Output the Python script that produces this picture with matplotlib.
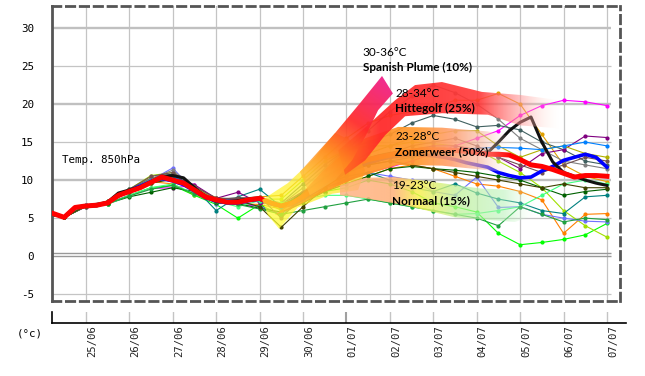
import numpy as np
import matplotlib
matplotlib.use("Agg")
import matplotlib.pyplot as plt
from matplotlib.patches import Polygon
from matplotlib.colors import to_rgb
from matplotlib.transforms import blended_transform_factory

# ---- data ----
date_labels = ["25/06", "26/06", "27/06", "28/06", "29/06", "30/06", "01/07",
               "02/07", "03/07", "04/07", "05/07", "06/07", "07/07"]
y_ticks = [-5, 0, 5, 10, 15, 20, 25, 30]

# 6-hourly main runs (days after 25/06 00h)
days_6h = -0.75 + 0.25 * np.arange(52)
mean_run = [5.6, 5.1, 6.4, 6.6, 6.7, 7.0, 8.0, 8.5, 9.0, 9.7, 10.4, 10.0, 9.6, 8.7, 7.8, 7.4,
            7.1, 7.1, 7.4, 7.6, 7.0, 6.6,
            7.0, 7.8, 8.8, 9.8, 10.8, 11.6, 12.2, 12.7, 13.0, 13.3, 13.6, 13.8, 14.0, 14.0,
            14.0, 13.9, 13.8, 13.6, 13.4, 13.4, 13.3,
            12.7, 12.0, 11.8, 11.4, 10.9, 10.4, 10.6, 10.6, 10.5]
control_run = [5.6, 5.1, 6.4, 6.6, 6.7, 7.0, 8.1, 8.6, 9.2, 9.8, 10.2, 9.9, 9.4, 8.6, 7.7, 7.3,
               7.0, 7.0, 7.3, 7.5, 6.9, 6.6,
               6.8, 7.5, 8.5, 9.5, 10.4, 11.2, 11.8, 12.3, 12.7, 13.0, 13.2, 13.3, 13.3, 13.2,
               13.0, 12.7, 12.3, 12.0, 11.7,
               11.0, 10.6, 10.3, 10.4, 11.2, 11.8, 12.6, 13.0, 13.4, 13.0, 11.7]
oper_run = [5.6, 5.1, 6.4, 6.6, 6.6, 7.1, 8.3, 8.7, 9.1, 9.8, 10.5, 10.6, 10.3, 9.0, 7.8, 7.3,
            7.2, 7.3, 7.5, 7.6, 7.1, 6.6, 7.2,
            8.2, 9.2, 10.2, 11.0, 11.7, 12.3, 12.8, 13.2, 13.5, 13.7, 13.8, 13.9, 13.9, 13.9,
            13.8, 13.7, 13.6, 13.6,
            15.0, 16.5, 17.6, 18.3, 15.0, 12.4, 11.0, 10.5, 10.0, 9.6, 9.3]

# 12-hourly ensemble members
days_12h = np.r_[-0.75, np.arange(-0.5, 12.01, 0.5)]
members = {
    "#ff00ff": [5.6, 5.1, 6.5, 7.0, 8.0, 8.9, 9.0, 9.3, 7.3, 6.8, 6.6, 5.5, 7.5, 9.0, 10.0, 11.0, 11.7, 12.5, 13.5, 14.5, 15.5, 16.5, 18.5, 19.8, 20.5, 20.3, 19.8],
    "#ff8000": [5.6, 5.1, 6.6, 7.2, 8.6, 9.8, 9.5, 8.0, 7.4, 6.9, 6.8, 6.2, 7.5, 8.5, 9.5, 10.5, 11.5, 12.0, 11.5, 10.5, 9.5, 9.2, 8.5, 7.4, 3.0, 5.5, 5.6],
    "#e0a000": [5.6, 5.1, 6.7, 7.1, 8.7, 10.3, 10.4, 8.6, 7.6, 7.5, 7.8, 8.0, 10.5, 13.0, 15.5, 17.5, 18.5, 19.0, 19.5, 20.5, 20.5, 21.4, 20.0, 16.0, 12.0, 10.5, 9.8],
    "#00ff00": [5.6, 5.1, 6.6, 6.9, 8.0, 9.0, 9.3, 8.0, 6.8, 5.0, 6.8, 5.3, 7.5, 8.5, 9.0, 10.0, 9.5, 8.5, 7.0, 6.5, 5.8, 3.0, 1.5, 1.8, 2.2, 2.8, 4.3],
    "#a0e000": [5.6, 5.1, 6.6, 7.2, 8.8, 10.6, 11.0, 9.0, 7.7, 7.4, 7.5, 7.5, 10.0, 12.5, 14.0, 14.5, 14.5, 15.0, 14.8, 14.5, 14.0, 12.5, 11.0, 9.0, 6.0, 4.0, 2.5],
    "#7070ff": [5.6, 5.1, 6.6, 7.0, 8.6, 10.0, 11.6, 8.5, 6.9, 7.2, 6.5, 5.5, 7.5, 9.0, 10.0, 11.0, 10.5, 10.0, 8.5, 8.0, 10.4, 6.4, 6.5, 5.5, 5.0, 4.6, 4.5],
    "#008080": [5.6, 5.1, 6.7, 7.2, 8.8, 10.2, 10.8, 9.0, 6.0, 7.8, 8.8, 6.5, 8.5, 9.5, 10.5, 11.0, 10.0, 9.0, 8.5, 9.5, 8.3, 7.5, 7.0, 6.0, 5.6, 7.8, 8.0],
    "#006000": [5.6, 5.1, 6.5, 6.9, 7.8, 8.4, 9.0, 8.5, 7.0, 6.9, 6.3, 5.8, 7.0, 8.5, 9.5, 10.5, 11.5, 11.8, 11.5, 11.3, 11.0, 10.5, 10.0, 9.0, 8.0, 8.5, 8.8],
    "#808080": [5.6, 5.1, 6.6, 7.1, 8.7, 10.2, 11.3, 9.0, 7.3, 7.6, 7.6, 6.8, 9.0, 11.5, 14.0, 16.5, 19.0, 21.0, 22.5, 21.5, 20.0, 18.0, 15.5, 14.0, 12.5, 12.0, 11.5],
    "#406060": [5.6, 5.1, 6.6, 7.0, 8.5, 9.6, 10.6, 8.8, 7.4, 7.7, 7.5, 7.0, 9.5, 12.0, 14.0, 15.0, 16.0, 17.5, 18.5, 18.0, 17.0, 17.2, 16.6, 15.0, 14.0, 12.5, 12.0],
    "#800080": [5.6, 5.1, 6.6, 7.1, 8.7, 9.8, 10.4, 9.4, 7.6, 8.4, 7.0, 6.8, 8.5, 10.0, 11.0, 12.0, 13.0, 14.0, 14.5, 14.5, 14.0, 13.0, 11.5, 13.5, 14.0, 15.8, 15.6],
    "#b0b000": [5.6, 5.1, 6.6, 7.0, 8.4, 9.6, 10.3, 8.8, 7.5, 7.4, 7.6, 6.0, 8.0, 10.5, 12.0, 13.5, 14.5, 15.5, 16.0, 16.5, 16.5, 14.5, 13.0, 14.0, 14.5, 13.5, 13.0],
    "#0080ff": [5.6, 5.1, 6.7, 7.1, 8.7, 10.0, 10.6, 8.6, 7.5, 7.4, 7.2, 6.5, 8.0, 9.5, 11.0, 12.0, 12.5, 13.0, 13.5, 14.0, 14.2, 14.3, 14.2, 14.0, 14.5, 15.0, 14.5],
    "#40ff80": [5.6, 5.1, 6.6, 6.8, 8.0, 9.0, 9.5, 8.2, 7.2, 6.5, 7.3, 7.0, 7.5, 8.0, 8.0, 7.5, 7.0, 6.5, 6.0, 5.5, 5.6, 6.0, 6.5, 8.0, 9.5, 10.0, 9.5],
    "#705050": [5.6, 5.1, 6.6, 7.2, 8.8, 10.5, 11.0, 9.2, 7.6, 7.6, 7.8, 5.0, 8.0, 10.0, 11.5, 12.5, 13.5, 14.5, 15.0, 15.5, 14.5, 13.0, 12.0, 11.0, 12.0, 13.0, 12.5],
    "#20a040": [5.6, 5.1, 6.6, 6.9, 7.9, 8.8, 9.3, 8.2, 7.1, 6.8, 6.2, 5.5, 6.0, 6.5, 7.0, 7.5, 7.0, 6.5, 6.0, 5.5, 5.0, 4.0, 6.5, 5.5, 4.5, 5.0, 4.8],
    "#404000": [5.6, 5.1, 6.6, 7.0, 8.5, 9.6, 10.1, 9.0, 7.2, 7.3, 6.5, 3.8, 6.5, 9.0, 11.0, 12.0, 12.5, 12.0, 11.5, 11.0, 10.5, 10.0, 9.5, 9.0, 9.5, 9.0, 9.0],
}

# scenario labels
scen_range = ["30-36\u00b0C", "28-34\u00b0C", "23-28\u00b0C", "19-23\u00b0C"]
scen_name = ["Spanish Plume (10%)", "Hittegolf (25%)", "Zomerweer (50%)", "Normaal (15%)"]

# ---- figure ----
W, H = 645, 376
fig = plt.figure(figsize=(W / 100, H / 100), dpi=100)
ax = fig.add_axes([52 / W, 1 - 301 / H, 568 / W, 295 / H])
x0, x1 = -0.78, 12.30
y0, y1 = -5.9, 32.9
sx, sy = 568 / (x1 - x0), 295 / (y1 - y0)   # pixels per unit

mono = "DejaVu Sans Mono"

# grid
for i in range(len(date_labels)):
    ax.axvline(i, color="#c4c4c4", lw=0.9, zorder=0)
for v in y_ticks:
    if v == 0:
        ax.hlines([0.0, 0.38], x0, 12.1, color="#999999", lw=1, zorder=0)
    elif v % 10 == 0:
        ax.hlines(v, x0, 12.1, color="#c0c0c0", lw=1.7, zorder=0)
    else:
        ax.hlines(v, x0, 12.1, color="#c4c4c4", lw=0.9, zorder=0)

# ensemble members
for col, vals in members.items():
    ax.plot(days_12h, vals, color=col, lw=0.8, marker="o", ms=2, zorder=2)
ax.plot(days_6h, control_run, color="#0000ff", lw=2.6, zorder=2.5)
ax.plot(days_6h, oper_run, color="#111111", lw=2.2, zorder=2.6)
ax.plot(days_6h, mean_run, color="#ff0000", lw=3.6, zorder=2.7)


# ---- gradient scenario bands ----
def gradient_band(verts, p0, p1, stops, z):
    verts = np.array(verts)
    poly = Polygon(verts, closed=True, facecolor="none", edgecolor="none")
    ax.add_patch(poly)
    bx0, by0 = verts.min(axis=0)
    bx1, by1 = verts.max(axis=0)
    gx, gy = np.meshgrid(np.linspace(bx0, bx1, 300), np.linspace(by0, by1, 300))
    dx, dy = (p1[0] - p0[0]) * sx, (p1[1] - p0[1]) * sy
    s = ((gx - p0[0]) * sx * dx + (gy - p0[1]) * sy * dy) / (dx * dx + dy * dy)
    s = np.clip(s, 0, 1)
    pos = [st[0] for st in stops]
    rgb = np.array([to_rgb(st[1]) for st in stops])
    alp = [st[2] for st in stops]
    img = np.zeros(gx.shape + (4,))
    for c in range(3):
        img[..., c] = np.interp(s, pos, rgb[:, c])
    img[..., 3] = np.interp(s, pos, alp)
    im = ax.imshow(img, extent=(bx0, bx1, by0, by1), origin="lower", aspect="auto",
                   interpolation="bilinear", zorder=z)
    im.set_clip_path(poly)


# yellow fan at the start of the divergence
gradient_band([(4.06, 7.4), (4.65, 9.6), (5.28, 13.0), (5.74, 16.2), (6.08, 15.3), (6.43, 11.3),
               (6.27, 8.7), (5.67, 8.2), (4.88, 6.4), (4.45, 3.6), (4.19, 5.4)],
              (4.45, 3.6), (5.9, 15.5),
              [(0, "#ffff30", 0.72), (0.6, "#ffe830", 0.75), (1, "#ffb030", 0.82)], 4.0)
# Normaal
gradient_band([(5.85, 9.3), (6.43, 10.3), (7.12, 10.4), (8.2, 9.6), (9.08, 8.9), (9.88, 8.7),
               (10.35, 8.4), (10.35, 5.4), (9.88, 4.5), (8.5, 5.1), (7.35, 6.7), (6.43, 7.6),
               (5.85, 8.0)],
              (5.85, 0), (10.35, 0),
              [(0, "#ffb080", 0.82), (0.27, "#ffb078", 0.85), (0.4, "#f8f050", 0.85),
               (0.6, "#c0f098", 0.75), (0.84, "#b0f0b0", 0.5), (1, "#e0ffe0", 0.0)], 4.1)
# Zomerweer
gradient_band([(4.93, 8.0), (5.44, 11.1), (5.97, 13.7), (6.43, 15.5), (7.19, 17.0), (8.2, 16.9),
               (9.26, 16.4), (9.77, 15.8), (9.77, 11.0), (9.26, 11.3), (8.2, 11.9), (7.19, 12.0),
               (6.2, 10.2), (5.44, 8.3), (4.7, 6.1), (4.35, 5.4)],
              (4.35, 0), (9.77, 0),
              [(0, "#ffc030", 0.72), (0.28, "#ff9020", 0.94), (0.6, "#ff9a30", 0.94),
               (0.75, "#ffa070", 0.9), (0.88, "#f8b8a0", 0.6), (1, "#ffe8e8", 0.0)], 4.2)
# Hittegolf
gradient_band([(5.81, 13.9), (6.43, 16.9), (7.12, 20.5), (7.58, 22.5), (8.2, 22.9), (9.12, 21.6),
               (10.0, 21.2), (10.92, 20.5), (10.92, 16.8), (10.0, 17.2), (9.26, 18.6), (8.2, 18.8),
               (7.35, 18.4), (6.89, 15.9), (6.43, 12.6), (5.97, 10.7)],
              (5.81, 0), (10.92, 0),
              [(0, "#ff7020", 0.82), (0.19, "#ff2828", 0.94), (0.64, "#ff3838", 0.9),
               (0.82, "#ff9090", 0.55), (1, "#fff0e0", 0.0)], 4.3)
# Spanish Plume
gradient_band([(4.93, 11.1), (5.74, 16.2), (6.31, 20.1), (6.82, 23.7), (7.07, 21.4), (6.73, 19.2),
               (6.45, 15.9), (6.13, 12.6), (5.74, 10.0), (5.16, 8.0)],
              (5.05, 9.3), (6.82, 23.7),
              [(0, "#ffc040", 0.65), (0.3, "#ff8a20", 0.9), (0.6, "#ff2a2a", 0.94),
               (1, "#f0208c", 0.95)], 4.4)

# scenario texts
lab_pos = [(6.38, 26.8), (7.12, 21.4), (7.12, 15.7), (7.05, 9.3)]
for (px, py), rng, name in zip(lab_pos, scen_range, scen_name):
    ax.text(px, py, rng, fontsize=8.5, family="Lato", va="center", ha="left", zorder=6)
    ax.text(px, py - 1.95, name, fontsize=8.5, family="Lato", fontweight="bold",
            va="center", ha="left", zorder=6)

ax.text(-0.55, 12.6, "Temp. 850hPa", fontsize=7.8, family=mono, va="center", ha="left", zorder=6)

ax.set_xlim(x0, x1)
ax.set_ylim(y0, y1)
ax.set_xticks([])
ax.set_yticks(y_ticks)
ax.set_yticklabels([str(v) for v in y_ticks], family=mono, fontsize=7.8)
ax.tick_params(axis="y", length=0, pad=13)
for side in ["top", "bottom", "right"]:
    ax.spines[side].set_linestyle((0, (3, 2)))
    ax.spines[side].set_color("#555555")
    ax.spines[side].set_linewidth(2)
ax.spines["left"].set_linestyle((0, (6, 1)))
ax.spines["left"].set_color("#555555")
ax.spines["left"].set_linewidth(2)

# bottom date strip
ax2 = fig.add_axes([52 / W, 1 - 323 / H, (626 - 52) / W, 11 / H])
ax2.set_xlim(x0, x0 + (626 - 52) / sx)
ax2.set_ylim(0, 1)
for i in range(len(date_labels)):
    ax2.axvline(i, color="#a0a0a0" if i == 6 else "#c4c4c4", lw=1.5 if i == 6 else 1)
ax2.set_xticks([])
ax2.set_yticks([])
for side in ["top", "right"]:
    ax2.spines[side].set_visible(False)
ax2.spines["bottom"].set_linewidth(1.2)
ax2.spines["left"].set_linewidth(1.2)
tr = blended_transform_factory(ax2.transData, ax2.transAxes)
for i, lab in enumerate(date_labels):
    ax2.text(i + 0.14, -0.2, lab, rotation=90, ha="center", va="top", transform=tr,
             fontsize=7.6, family=mono, color="#222222")

fig.text(30 / W, 1 - 333 / H, "(\u00b0c)", ha="center", va="center", fontsize=7.8, family=mono)

fig.savefig("out.png", dpi=100)
